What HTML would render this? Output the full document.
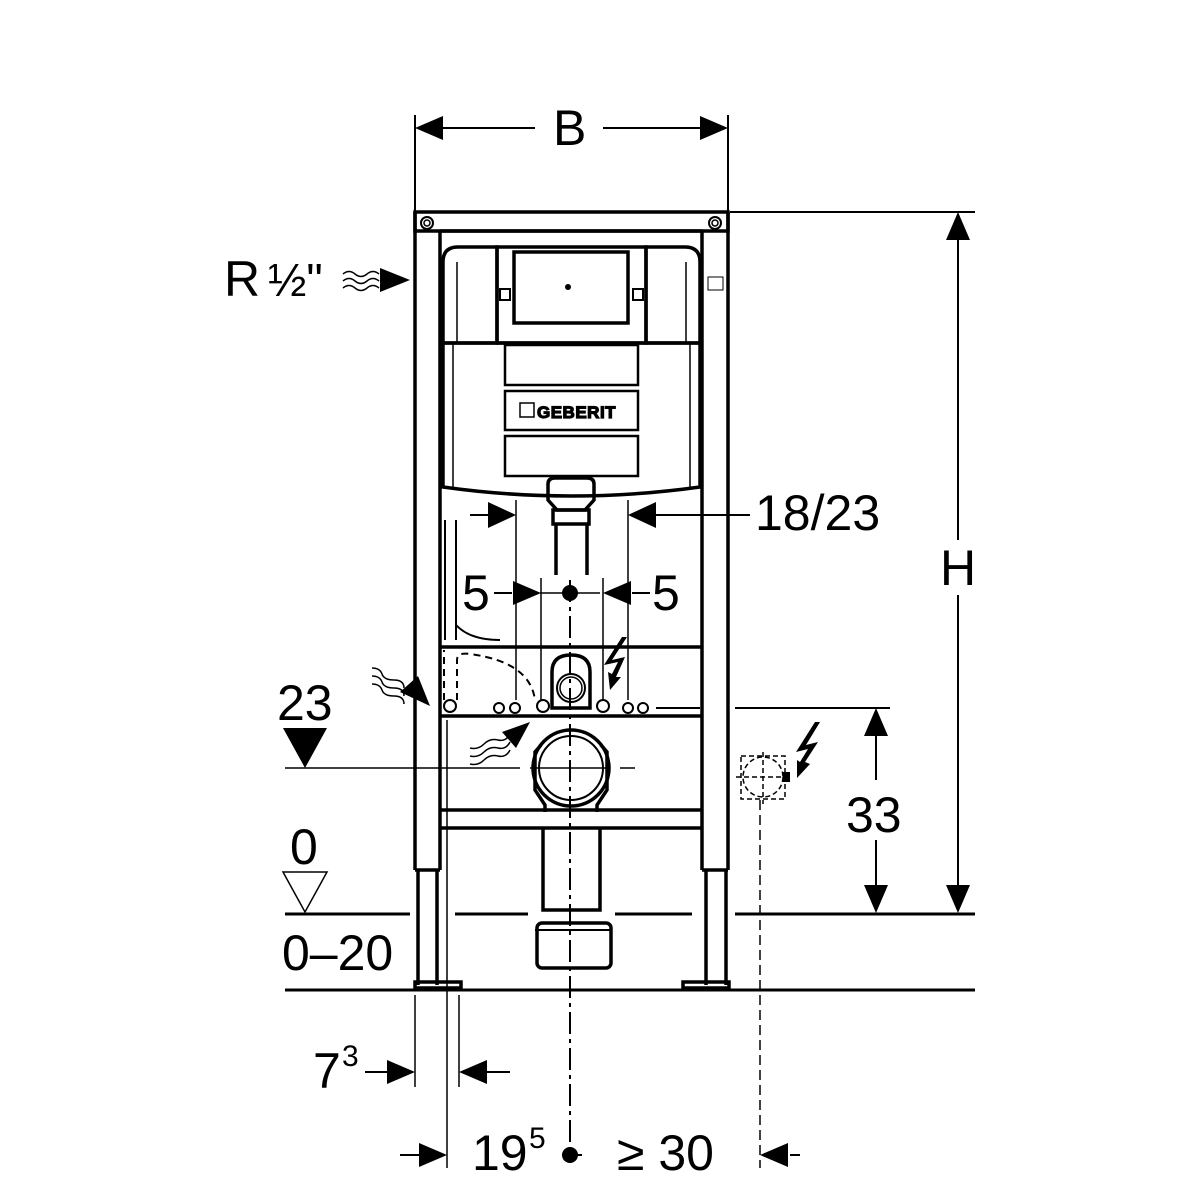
<!DOCTYPE html>
<html><head><meta charset="utf-8"><style>
html,body{margin:0;padding:0;background:#fff}
svg{display:block}
text{font-family:"Liberation Sans",sans-serif;fill:#000}
</style></head><body>
<svg width="1200" height="1200" viewBox="0 0 1200 1200" xmlns="http://www.w3.org/2000/svg">
<g fill="none" stroke="#000" stroke-width="2">
<line x1="415" y1="115" x2="415" y2="212"/>
<line x1="728" y1="115" x2="728" y2="212"/>
<line x1="440" y1="128" x2="535" y2="128"/>
<line x1="603" y1="128" x2="700" y2="128"/>
<line x1="730" y1="212" x2="975" y2="212"/>
<line x1="958" y1="240" x2="958" y2="540"/>
<line x1="958" y1="595" x2="958" y2="885"/>
<line x1="735" y1="708" x2="890" y2="708"/>
<line x1="876" y1="735" x2="876" y2="780"/>
<line x1="876" y1="840" x2="876" y2="885"/>
</g>
<g fill="#000">
<polygon points="415,128 443,116 443,140"/>
<polygon points="728,128 700,116 700,140"/>
<polygon points="958,212 946,240 970,240"/>
<polygon points="958,913 946,885 970,885"/>
<polygon points="876,708 864,736 888,736"/>
<polygon points="876,913 864,885 888,885"/>
</g>
<text x="553" y="145" font-size="50">B</text>
<text x="940" y="585" font-size="50">H</text>
<text x="846" y="832" font-size="50">33</text>

<g fill="none" stroke="#000" stroke-width="3.5">
<rect x="415" y="212" width="313" height="19"/>
<line x1="415" y1="212" x2="415" y2="870"/>
<line x1="440" y1="231" x2="440" y2="870"/>
<line x1="702" y1="231" x2="702" y2="870"/>
<line x1="728" y1="212" x2="728" y2="870"/>
<line x1="415" y1="870" x2="440" y2="870"/>
<line x1="702" y1="870" x2="728" y2="870"/>
<line x1="418" y1="870" x2="418" y2="985"/>
<line x1="437" y1="870" x2="437" y2="985"/>
<line x1="706" y1="870" x2="706" y2="985"/>
<line x1="726" y1="870" x2="726" y2="985"/>
<rect x="415" y="982" width="46" height="6"/>
<rect x="683" y="982" width="46" height="6"/>
<line x1="440" y1="231" x2="702" y2="231"/>
<circle cx="427" cy="223" r="6" stroke-width="2"/>
<circle cx="427" cy="223" r="3" stroke-width="1.5"/>
<circle cx="715" cy="223" r="6" stroke-width="2"/>
<circle cx="715" cy="223" r="3" stroke-width="1.5"/>
<path d="M443,343 L443,262 Q443,247 458,247 L497,247 L497,343 Z"/>
<path d="M700,343 L700,262 Q700,247 685,247 L646,247 L646,343 Z"/>
<rect x="497" y="247" width="149" height="96"/>
<rect x="514" y="252" width="114" height="71"/>
<rect x="500" y="289" width="10" height="11" stroke-width="2"/>
<rect x="633" y="289" width="10" height="11" stroke-width="2"/>
<path d="M443,343 L443,487 Q571,505 700,487 L700,343 Z"/>
<rect x="505" y="345" width="133" height="40" stroke-width="2.5"/>
<rect x="505" y="391" width="133" height="39" stroke-width="2.5"/>
<rect x="505" y="436" width="133" height="40" stroke-width="2.5"/>
<path d="M548,500 L548,484 Q548,478 555,478 L587,478 Q594,478 594,484 L594,500 L585,510 L557,510 Z"/>
<rect x="553" y="510" width="36" height="14"/>
<line x1="556" y1="524" x2="556" y2="575"/>
<line x1="587" y1="524" x2="587" y2="575"/>
<line x1="440" y1="647" x2="702" y2="647"/>
<line x1="440" y1="716" x2="702" y2="716"/>
<line x1="440" y1="810" x2="702" y2="810"/>
<line x1="440" y1="828" x2="702" y2="828"/>
<path d="M552,708 L552,672 Q552,655 571,655 Q590,655 590,672 L590,708 Z"/>
<circle cx="571" cy="688" r="14" stroke-width="2"/>
<circle cx="571" cy="688" r="11" stroke-width="1.5"/>
<circle cx="571" cy="768" r="38"/>
<circle cx="571" cy="768" r="32" stroke-width="2"/>
<path d="M541,745 L535,752 L535,790 L545,805 L545,812"/>
<path d="M601,745 L607,752 L607,790 L597,805 L597,812"/>
<path d="M543,828 L543,910 L600,910 L600,828"/>
<rect x="537" y="923" width="74" height="45" rx="5"/>
<line x1="535" y1="930" x2="612" y2="930" stroke-width="2"/>
<path d="M457,700 L457,660 Q457,652 470,654 Q530,662 535,700" stroke-dasharray="7,5" stroke-width="2"/>
<path d="M444,700 L444,650" stroke-dasharray="7,5" stroke-width="2"/>
</g>
<g fill="none" stroke="#000" stroke-width="2">
<circle cx="450" cy="706" r="6"/>
<circle cx="543" cy="706" r="6"/>
<circle cx="603" cy="706" r="6"/>
<circle cx="499" cy="708" r="5"/><circle cx="515" cy="708" r="5"/>
<circle cx="628" cy="708" r="5"/><circle cx="643" cy="708" r="5"/>
<line x1="656" y1="708" x2="700" y2="708"/>
<line x1="445" y1="520" x2="445" y2="640"/>
<line x1="456" y1="520" x2="456" y2="640"/>
<path d="M456,625 Q470,640 500,640"/>
<line x1="457" y1="262" x2="457" y2="343" stroke-width="1.5"/>
<line x1="686" y1="262" x2="686" y2="343" stroke-width="1.5"/>
<line x1="453" y1="343" x2="453" y2="490" stroke-width="1.5"/>
<line x1="690" y1="343" x2="690" y2="490" stroke-width="1.5"/>
</g>
<circle cx="568" cy="287" r="3" fill="#000"/>
<rect x="520" y="403" width="14" height="14" fill="none" stroke="#000" stroke-width="1.5"/>
<text x="537" y="418" font-size="17" font-weight="bold" fill="#fff" stroke="#000" stroke-width="1.2" letter-spacing="0.5">GEBERIT</text>
<rect x="708" y="277" width="15" height="13" fill="none" stroke="#000" stroke-width="1"/>

<g stroke="#000" stroke-width="3" fill="none">
<line x1="285" y1="914" x2="410" y2="914"/>
<line x1="455" y1="914" x2="528" y2="914"/>
<line x1="615" y1="914" x2="692" y2="914"/>
<line x1="735" y1="914" x2="975" y2="914"/>
<line x1="285" y1="990" x2="975" y2="990"/>
</g>

<line x1="570" y1="580" x2="570" y2="1155" stroke="#000" stroke-width="2" stroke-dasharray="22,5,4,5"/>
<g stroke="#000" stroke-width="1.5" fill="none">
<line x1="415" y1="995" x2="415" y2="1087"/>
<line x1="447" y1="720" x2="447" y2="1168"/>
<line x1="459" y1="995" x2="459" y2="1087"/>
<line x1="760" y1="800" x2="760" y2="1168" stroke-dasharray="10,5"/>
<line x1="516" y1="500" x2="516" y2="700"/>
<line x1="628" y1="500" x2="628" y2="700"/>
<line x1="541" y1="578" x2="541" y2="700"/>
<line x1="603" y1="578" x2="603" y2="700"/>
<line x1="285" y1="768" x2="520" y2="768"/>
<line x1="530" y1="768" x2="610" y2="768"/>
<line x1="620" y1="768" x2="635" y2="768"/>
<line x1="540" y1="593" x2="600" y2="593"/>
</g>
<g stroke="#000" stroke-width="2"><line x1="470" y1="515" x2="490" y2="515"/><line x1="655" y1="515" x2="750" y2="515"/>
<line x1="494" y1="593" x2="512" y2="593"/><line x1="632" y1="593" x2="650" y2="593"/>
<line x1="365" y1="1072" x2="390" y2="1072"/><line x1="485" y1="1072" x2="510" y2="1072"/>
<line x1="400" y1="1155" x2="420" y2="1155"/><line x1="562" y1="1155" x2="582" y2="1155"/>
<line x1="790" y1="1155" x2="800" y2="1155"/></g>
<g fill="#000">
<polygon points="516,515 488,502 488,528"/>
<polygon points="628,515 656,502 656,528"/>
<polygon points="541,593 513,581 513,605"/>
<polygon points="603,593 631,581 631,605"/>
<polygon points="415,1072 387,1060 387,1084"/>
<polygon points="459,1072 487,1060 487,1084"/>
<polygon points="447,1155 419,1143 419,1167"/>
<polygon points="760,1155 788,1143 788,1167"/>
<circle cx="570" cy="593" r="8"/>
<circle cx="570" cy="1155" r="8"/>
<polygon points="283,728 327,728 305,768"/>
<polygon points="410,280 380,268 380,292"/>
<polygon points="430,706 400,692 418,676"/>
<polygon points="530,722 502,732 516,748"/>
<polygon points="622,637 627,637 612,660 625,657 616,677 621,677 610,690 608,672 612,674 618,662 604,665"/>
<polygon points="815,722 820,722 806,745 818,742 805,762 810,764 797,778 797,760 800,762 808,749 796,752"/>
</g>
<polygon points="283,872 327,872 305,912" fill="none" stroke="#000" stroke-width="1.5"/>
<g fill="none" stroke="#000" stroke-width="1.5">
<path d="M343,274 q6,-5 12,0 t12,0 t12,0"/>
<path d="M343,281 q6,-5 12,0 t12,0 t12,0"/>
<path d="M343,288 q6,-5 12,0 t12,0 t12,0"/>
<path d="M372,668 q8,0 10,6 t12,6 t10,8"/>
<path d="M372,676 q8,0 10,6 t12,6 t10,8"/>
<path d="M372,684 q8,0 10,6 t12,6 t10,8"/>
<path d="M470,748 q8,2 14,-4 t14,-4 t12,-6"/>
<path d="M470,756 q8,2 14,-4 t14,-4 t12,-6"/>
<path d="M470,764 q8,2 14,-4 t14,-4 t12,-6"/>
</g>
<g fill="none" stroke="#000" stroke-width="1.5" stroke-dasharray="5,3">
<rect x="741" y="756" width="44" height="43"/>
<circle cx="763" cy="777" r="20"/>
<line x1="763" y1="752" x2="763" y2="804"/>
<line x1="736" y1="777" x2="790" y2="777"/>
</g>
<rect x="783" y="772" width="7" height="10" fill="#000"/>

<text x="224" y="296" font-size="50">R</text>
<text x="268" y="296" font-size="46">½"</text>
<text x="755" y="530" font-size="50">18/23</text>
<text x="462" y="610" font-size="50">5</text>
<text x="652" y="610" font-size="50">5</text>
<text x="277" y="720" font-size="50">23</text>
<text x="290" y="864" font-size="50">0</text>
<text x="282" y="970" font-size="50">0–20</text>
<text x="313" y="1088" font-size="50">7</text>
<text x="342" y="1066" font-size="30">3</text>
<text x="472" y="1170" font-size="50">19</text>
<text x="529" y="1148" font-size="30">5</text>
<text x="617" y="1170" font-size="50">≥ 30</text>
</svg>
</body></html>
